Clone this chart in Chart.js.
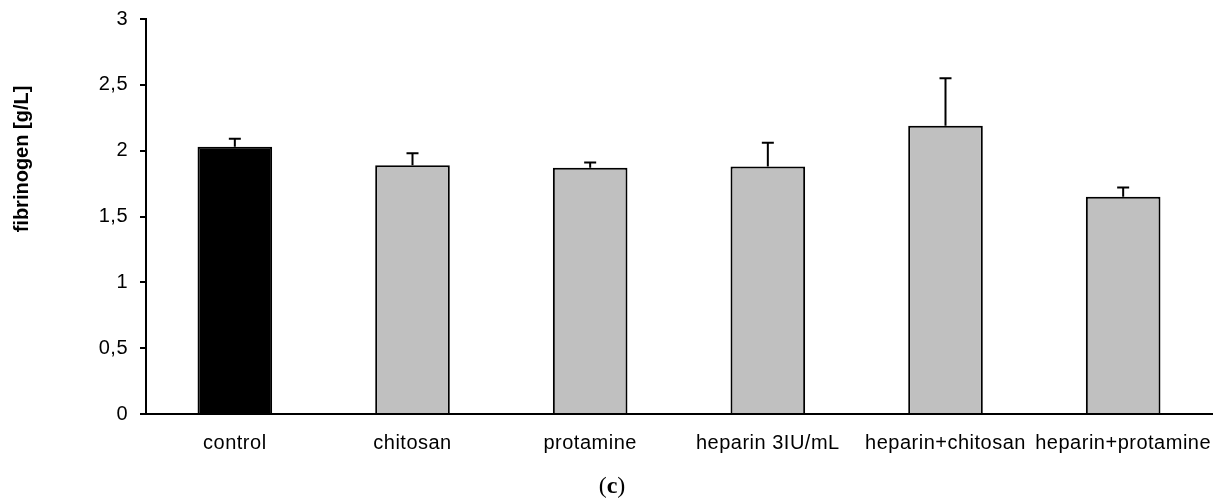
<!DOCTYPE html>
<html lang="en">
<head>
    <meta charset="UTF-8">
    <title>Fibrinogen</title>
    <style>
        body { margin: 0; background: white; }
        #chartBox { width: 1226px; height: 502px; }
    </style>
    <script src="https://cdn.jsdelivr.net/npm/chart.js@4.4.6/dist/chart.umd.min.js"></script>
</head>
<body>
    <div id="chartBox"><canvas id="fibChart" width="1226" height="502"></canvas></div>

    <script>
        // data
        const groups = ['control', 'chitosan', 'protamine', 'heparin 3IU/mL', 'heparin+chitosan', 'heparin+protamine'];
        const fibrinogen = [2.03, 1.89, 1.87, 1.88, 2.19, 1.65];
        const errUp = [0.06, 0.09, 0.04, 0.18, 0.36, 0.07];
        const barColors = ['#000000', '#c0c0c0', '#c0c0c0', '#c0c0c0', '#c0c0c0', '#c0c0c0'];
        const yTickLabels = ['0', '0,5', '1', '1,5', '2', '2,5', '3'];

        // error bars (upper only) + y title + (c) caption
        const extras = {
            id: 'extras',
            beforeDraw(chart) {
                chart.ctx.letterSpacing = '0.5px';
            },
            afterDatasetsDraw(chart) {
                const ctx = chart.ctx;
                const yScale = chart.scales.y;
                const bars = chart.getDatasetMeta(0).data;
                ctx.save();
                ctx.strokeStyle = '#000';
                ctx.lineWidth = 2;
                bars.forEach((bar, i) => {
                    const yTop = yScale.getPixelForValue(fibrinogen[i] + errUp[i]);
                    ctx.beginPath();
                    ctx.moveTo(bar.x, bar.y);
                    ctx.lineTo(bar.x, yTop);
                    ctx.moveTo(bar.x - 6, yTop);
                    ctx.lineTo(bar.x + 6, yTop);
                    ctx.stroke();
                });
                ctx.restore();
            },
            afterDraw(chart) {
                const ctx = chart.ctx;
                ctx.save();
                ctx.letterSpacing = '0px';
                ctx.fillStyle = '#000';
                // axis title
                ctx.translate(22, 159);
                ctx.rotate(-Math.PI / 2);
                ctx.font = 'bold 20px "Liberation Sans", Arial, sans-serif';
                ctx.textAlign = 'center';
                ctx.textBaseline = 'middle';
                ctx.fillText('fibrinogen [g/L]', 0, 0);
                ctx.restore();

                // caption (c)
                ctx.save();
                ctx.letterSpacing = '0px';
                ctx.fillStyle = '#000';
                ctx.textBaseline = 'alphabetic';
                const normal = '24px "Liberation Serif", "Times New Roman", serif';
                const bold = 'bold 24px "Liberation Serif", "Times New Roman", serif';
                ctx.font = normal;
                const wP = ctx.measureText('(').width;
                const wR = ctx.measureText(')').width;
                ctx.font = bold;
                const wC = ctx.measureText('c').width;
                let x = 612 - (wP + wC + wR) / 2;
                const y = 493;
                ctx.font = normal;
                ctx.fillText('(', x, y);
                x += wP;
                ctx.font = bold;
                ctx.fillText('c', x, y);
                x += wC;
                ctx.font = normal;
                ctx.fillText(')', x, y);
                ctx.restore();
            }
        };

        new Chart(document.getElementById('fibChart'), {
            type: 'bar',
            data: {
                labels: groups,
                datasets: [{
                    data: fibrinogen,
                    backgroundColor: barColors,
                    borderColor: '#000',
                    borderWidth: 2,
                    barPercentage: 0.42,
                    categoryPercentage: 1
                }]
            },
            options: {
                responsive: false,
                animation: false,
                layout: { padding: { top: 19, right: 14, left: 0, bottom: 0 } },
                plugins: {
                    legend: { display: false },
                    tooltip: { enabled: false }
                },
                scales: {
                    x: {
                        grid: { display: false },
                        border: { display: true, color: '#000', width: 2 },
                        ticks: {
                            color: '#000',
                            padding: 9,
                            maxRotation: 0,
                            autoSkip: false,
                            font: { family: '"Liberation Sans", Arial, sans-serif', size: 20 }
                        },
                        afterFit(scale) {
                            scale.height = 88;
                            scale.paddingLeft = 0;
                            scale.paddingRight = 0;
                        }
                    },
                    y: {
                        min: 0,
                        max: 3,
                        grid: { drawOnChartArea: false, drawTicks: true, tickLength: 6, color: '#000', lineWidth: 2 },
                        border: { display: true, color: '#000', width: 2 },
                        ticks: {
                            stepSize: 0.5,
                            color: '#000',
                            padding: 12,
                            font: { family: '"Liberation Sans", Arial, sans-serif', size: 20 },
                            callback: (v, i) => yTickLabels[i]
                        },
                        afterFit(scale) {
                            scale.width = 146;
                            scale.paddingTop = 0;
                            scale.paddingBottom = 0;
                        }
                    }
                }
            },
            plugins: [extras]
        });
    </script>
</body>
</html>
